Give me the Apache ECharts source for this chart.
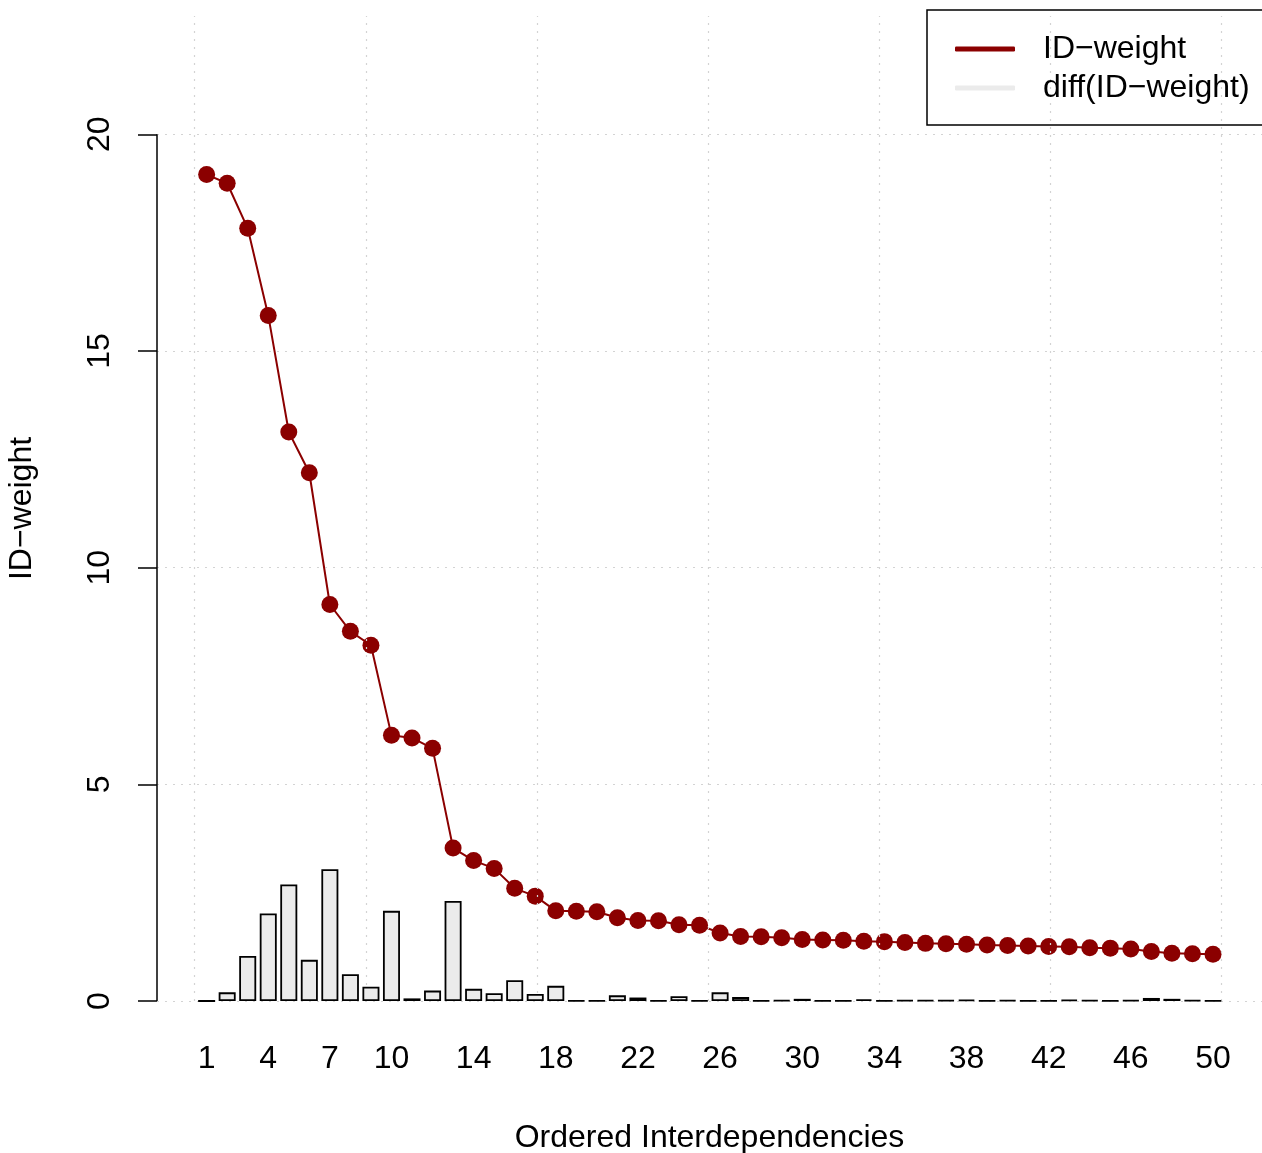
<!DOCTYPE html>
<html><head><meta charset="utf-8">
<script src="https://cdn.jsdelivr.net/npm/echarts@6/dist/echarts.min.js"></script>
<style>html,body{margin:0;padding:0;background:#fff}#c{width:1262px;height:1153px}</style>
</head><body><div id="c"></div>
<script>
// ---- data ----
const positions = [1,2,3,4,5,6,7,8,9,10,11,12,13,14,15,16,17,18,19,20,21,22,23,24,25,26,27,28,29,30,31,32,33,34,35,36,37,38,39,40,41,42,43,44,45,46,47,48,49,50];
const weights = [19.07,18.87,17.83,15.82,13.13,12.19,9.15,8.53,8.21,6.13,6.07,5.83,3.53,3.24,3.06,2.60,2.42,2.08,2.07,2.06,1.92,1.86,1.85,1.76,1.75,1.57,1.49,1.48,1.46,1.42,1.41,1.40,1.38,1.37,1.35,1.33,1.32,1.31,1.29,1.28,1.27,1.26,1.25,1.23,1.22,1.20,1.14,1.10,1.09,1.08];
const diffs = [0,0.20,1.04,2.02,2.69,0.95,3.04,0.62,0.33,2.08,0.06,0.24,2.31,0.28,0.18,0.48,0.16,0.35,0.01,0.01,0.13,0.08,0.01,0.11,0.01,0.20,0.09,0.01,0.02,0.05,0.01,0.01,0.04,0.01,0.02,0.02,0.02,0.03,0.01,0.02,0.01,0.01,0.03,0.02,0.01,0.02,0.07,0.05,0.02,0.01];
const xTickLabels = [1,4,7,10,14,18,22,26,30,34,38,42,46,50];
const yTickLabels = [0,5,10,15,20];
const gridBarUnits = [0,10,20,30,40,50,60]; // grid positions in barplot units
const legendNames = ['ID\u2212weight','diff(ID\u2212weight)'];

// barplot unit -> index coordinate
const toIdx = u => (u - 0.7) / 1.2 + 1;
const xMin = toIdx(-2.2), xMax = 52.386;
const yMax = 22.73;
const FONT = '"Liberation Sans", Arial, Helvetica, sans-serif';
const FS = 32;
const DARK = '#8B0000', LIGHT = '#EBEBEB', GRIDC = '#D3D3D3';

const chart = echarts.init(document.getElementById('c'), null, {renderer:'canvas'});
const gridLines = [];
yTickLabels.forEach(v => gridLines.push({yAxis: v}));
gridBarUnits.forEach(u => gridLines.push({xAxis: toIdx(u)}));

chart.setOption({
  animation: false,
  backgroundColor: '#fff',
  textStyle: {fontFamily: FONT},
  grid: {left: 157, top: 16, width: 1105, height: 985, containLabel: false, outerBoundsMode: 'none'},
  xAxis: {
    type: 'value', min: xMin, max: xMax,
    axisLine: {show: false, onZero: false}, axisTick: {show: false}, splitLine: {show: false},
    axisLabel: {customValues: xTickLabels, fontSize: FS, color: '#000', margin: 42, fontFamily: FONT},
    name: 'Ordered Interdependencies', nameLocation: 'middle', nameGap: 121,
    nameTextStyle: {fontSize: FS, color: '#000', fontFamily: FONT}
  },
  yAxis: {
    type: 'value', min: 0, max: yMax,
    axisLine: {show: false, onZero: false},
    axisTick: {show: true, inside: false, customValues: yTickLabels, length: 19, lineStyle: {color: '#000', width: 1.5}},
    splitLine: {show: false},
    axisLabel: {customValues: yTickLabels, rotate: 90, fontSize: FS, color: '#000', margin: 41, fontFamily: FONT},
    name: 'ID\u2212weight', nameLocation: 'middle', nameGap: 119, nameRotate: 90,
    nameTextStyle: {fontSize: FS, color: '#000', fontFamily: FONT}
  },
  legend: {
    left: 927, top: 10, orient: 'vertical',
    padding: [23, 30, 21, 28], itemGap: 7, itemWidth: 60, itemHeight: 5,
    borderColor: '#000', borderWidth: 1.5,
    textStyle: {fontSize: FS, color: '#000', fontFamily: FONT, padding: [0,0,0,23]},
    data: [
      {name: legendNames[0], icon: 'roundRect', itemStyle: {color: DARK, borderWidth: 0}},
      {name: legendNames[1], icon: 'roundRect', itemStyle: {color: LIGHT, borderWidth: 0}}
    ]
  },
  series: [
    {
      name: legendNames[0], type: 'line', z: 1,
      data: positions.map((p, i) => [p, weights[i]]),
      lineStyle: {color: DARK, width: 2}, itemStyle: {color: DARK},
      symbol: 'circle', symbolSize: 17, showSymbol: true
    },
    {
      name: 'grid', type: 'line', z: 2, data: [],
      markLine: {
        silent: true, symbol: 'none', z: 2, animation: false,
        label: {show: false},
        lineStyle: {color: GRIDC, type: [2, 6], width: 1.2},
        data: gridLines
      }
    },
    {
      name: 'axis', type: 'line', z: 4, data: [],
      markLine: {
        silent: true, symbol: 'none', z: 4, animation: false,
        label: {show: false},
        lineStyle: {color: '#000', type: 'solid', width: 1.5},
        data: [[{coord: [xMin, 0]}, {coord: [xMin, 20]}]]
      }
    },
    {
      name: legendNames[1], type: 'bar', z: 3,
      data: positions.map((p, i) => [p, diffs[i]]),
      barWidth: 17,
      itemStyle: {color: LIGHT, borderColor: '#000', borderWidth: 1.8}
    }
  ]
});
</script></body></html>
